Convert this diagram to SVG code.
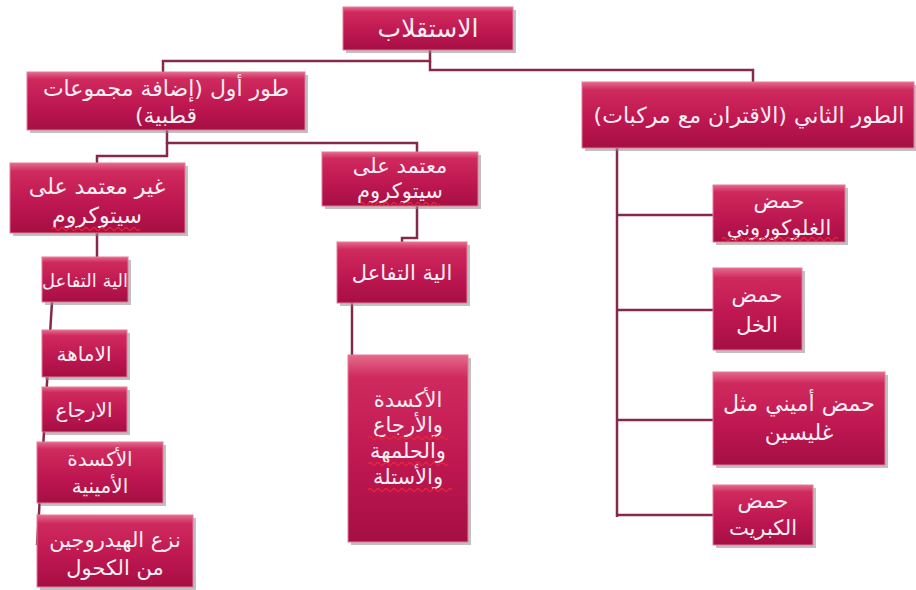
<svg xmlns="http://www.w3.org/2000/svg" width="916" height="590" viewBox="0 0 916 590">
<defs>
<linearGradient id="g" x1="0" y1="0" x2="0" y2="1">
<stop offset="0" stop-color="#e46a8c"/>
<stop offset="0.12" stop-color="#cf2a5e"/>
<stop offset="0.6" stop-color="#bd1650"/>
<stop offset="1" stop-color="#a50f43"/>
</linearGradient>
<style>
.b{fill:url(#g);stroke:#e47b98;stroke-width:1}
.s{fill:#8c8c8c;opacity:0.55}
.t{font-family:"DejaVu Sans",sans-serif;font-size:21px;fill:#fbeef2;text-anchor:middle;direction:rtl}
.c{fill:none;stroke:#86284a;stroke-width:2.5}
.w{fill:none;stroke:#e8283a;stroke-width:1.3}
</style>
</defs>
<rect width="916" height="590" fill="#ffffff"/>
<g id="connectors">
<path class="c" d="M430 50V61H163V72"/>
<path class="c" d="M430 61V70H753V82"/>
<path class="c" d="M167 130V143H417V153"/>
<path class="c" d="M167 143V156H97V163"/>
<path class="c" d="M97 233V257"/>
<path class="c" d="M417 206V238H402V242"/>
<path class="c" d="M352 303V355"/>
<path class="c" d="M52 302L37 545"/>
<path class="c" d="M617 148V517"/>
<path class="c" d="M617 215H713M617 310H713M617 420H713M617 515H713"/>
</g>
<g id="n_root"><rect class="s" x="346" y="10" width="170" height="43"/><rect class="b" x="343" y="7" width="170" height="43"/><text class="t" x="428" y="37" style="font-size:25px">الاستقلاب</text></g>
<g id="n_phase1"><rect class="s" x="30" y="75" width="278" height="58"/><rect class="b" x="27" y="72" width="278" height="58"/><text class="t" x="166" y="96" style="font-size:22px">طور أول (إضافة مجموعات</text><text class="t" x="166" y="123" style="font-size:22px">قطبية)</text></g>
<g id="n_phase2"><rect class="s" x="585" y="85" width="331" height="66"/><rect class="b" x="582" y="82" width="332" height="66"/><text class="t" x="749" y="123" style="font-size:22px">الطور الثاني (الاقتران مع مركبات)</text></g>
<g id="n_noncyp"><rect class="s" x="13" y="166" width="175" height="70"/><rect class="b" x="10" y="163" width="175" height="70"/><text class="t" x="97" y="194" style="font-size:22px">غير معتمد على</text><text class="t" x="97" y="223" style="font-size:22px">سيتوكروم</text><path class="w" d="M52 229q2 -3 4 0t4 0t4 0t4 0t4 0t4 0t4 0t4 0t4 0t4 0t4 0t4 0t4 0t4 0t4 0t4 0t4 0t4 0t4 0t4 0t4 0t4 0"/></g>
<g id="n_cyp"><rect class="s" x="325" y="155" width="156" height="54"/><rect class="b" x="322" y="152" width="156" height="54"/><text class="t" x="400" y="173" style="font-size:21px">معتمد على</text><text class="t" x="400" y="198" style="font-size:21px">سيتوكروم</text><path class="w" d="M360 204q2 -3 4 0t4 0t4 0t4 0t4 0t4 0t4 0t4 0t4 0t4 0t4 0t4 0t4 0t4 0t4 0t4 0t4 0t4 0t4 0t4 0"/></g>
<g id="n_mech_mid"><rect class="s" x="340" y="245" width="130" height="61"/><rect class="b" x="337" y="242" width="130" height="61"/><text class="t" x="402" y="280" style="font-size:21px">الية التفاعل</text></g>
<g id="n_oxred"><rect class="s" x="351" y="358" width="120" height="187"/><rect class="b" x="348" y="355" width="120" height="187"/><text class="t" x="408" y="407" style="font-size:21px">الأكسدة</text><text class="t" x="408" y="432" style="font-size:21px">والأرجاع</text><text class="t" x="408" y="458" style="font-size:21px">والحلمهة</text><text class="t" x="408" y="484" style="font-size:21px">والأستلة</text><path class="w" d="M368 438q2 -3 4 0t4 0t4 0t4 0t4 0t4 0t4 0t4 0t4 0t4 0t4 0t4 0t4 0t4 0t4 0t4 0t4 0t4 0t4 0t4 0M368 464q2 -3 4 0t4 0t4 0t4 0t4 0t4 0t4 0t4 0t4 0t4 0t4 0t4 0t4 0t4 0t4 0t4 0t4 0t4 0t4 0t4 0M368 490q2 -3 4 0t4 0t4 0t4 0t4 0t4 0t4 0t4 0t4 0t4 0t4 0t4 0t4 0t4 0t4 0t4 0t4 0t4 0t4 0t4 0t4 0"/></g>
<g id="n_mech_left"><rect class="s" x="45" y="260" width="86" height="45"/><rect class="b" x="42" y="257" width="86" height="45"/><text class="t" x="85" y="287" style="font-size:18px">الية التفاعل</text></g>
<g id="n_hydr"><rect class="s" x="45" y="333" width="85" height="47"/><rect class="b" x="42" y="330" width="85" height="47"/><text class="t" x="84" y="361" style="font-size:20px">الاماهة</text></g>
<g id="n_red"><rect class="s" x="45" y="390" width="85" height="45"/><rect class="b" x="42" y="387" width="85" height="45"/><text class="t" x="84" y="417" style="font-size:20px">الارجاع</text></g>
<g id="n_amox"><rect class="s" x="40" y="445" width="126" height="61"/><rect class="b" x="37" y="442" width="126" height="61"/><text class="t" x="100" y="466" style="font-size:20px">الأكسدة</text><text class="t" x="100" y="493" style="font-size:20px">الأمينية</text></g>
<g id="n_dehyd"><rect class="s" x="40" y="518" width="156" height="72"/><rect class="b" x="37" y="515" width="156" height="72"/><text class="t" x="115" y="547" style="font-size:21px">نزع الهيدروجين</text><text class="t" x="115" y="575" style="font-size:21px">من الكحول</text></g>
<g id="n_gluc"><rect class="s" x="716" y="188" width="132" height="57"/><rect class="b" x="713" y="185" width="132" height="57"/><text class="t" x="779" y="208" style="font-size:21px">حمض</text><text class="t" x="779" y="235" style="font-size:21px">الغلوكوروني</text><path class="w" d="M722 239q2 -3 4 0t4 0t4 0t4 0t4 0t4 0t4 0t4 0t4 0t4 0t4 0t4 0t4 0t4 0t4 0t4 0t4 0t4 0t4 0t4 0t4 0t4 0t4 0t4 0t4 0t4 0t4 0t4 0t4 0"/></g>
<g id="n_acet"><rect class="s" x="716" y="271" width="89" height="82"/><rect class="b" x="713" y="268" width="89" height="82"/><text class="t" x="757" y="302" style="font-size:21px">حمض</text><text class="t" x="757" y="332" style="font-size:21px">الخل</text></g>
<g id="n_gly"><rect class="s" x="716" y="375" width="172" height="93"/><rect class="b" x="713" y="372" width="172" height="93"/><text class="t" x="799" y="411" style="font-size:22px">حمض أميني مثل</text><text class="t" x="799" y="440" style="font-size:22px">غليسين</text></g>
<g id="n_sulf"><rect class="s" x="716" y="488" width="100" height="60"/><rect class="b" x="713" y="485" width="100" height="60"/><text class="t" x="763" y="508" style="font-size:21px">حمض</text><text class="t" x="763" y="535" style="font-size:21px">الكبريت</text></g>
</svg>
